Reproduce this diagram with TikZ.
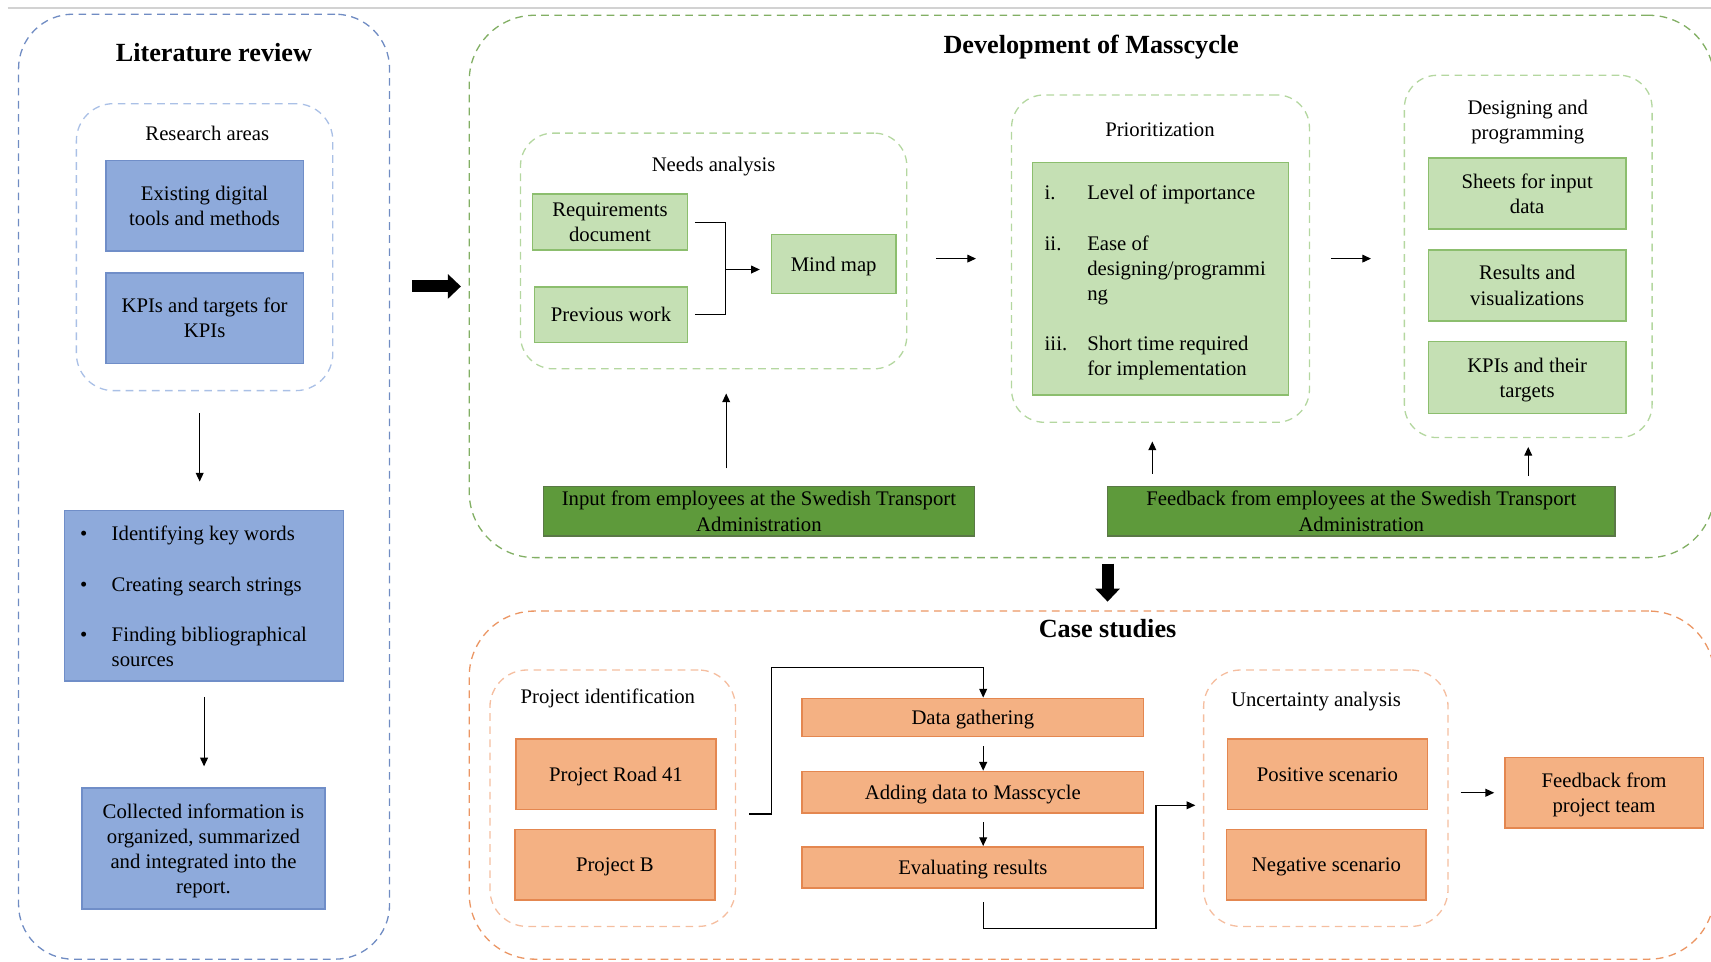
\documentclass[tikz,border=0pt]{standalone}
\usepackage{fontspec}
\setmainfont{Liberation Serif}
\usetikzlibrary{arrows.meta,calc}
\definecolor{bluefill}{RGB}{142,170,219}
\definecolor{bluebd}{RGB}{112,142,200}
\definecolor{greenfill}{RGB}{197,224,180}
\definecolor{greenbd}{RGB}{140,190,110}
\definecolor{dgreenfill}{RGB}{94,154,59}
\definecolor{dgreenbd}{RGB}{90,120,70}
\definecolor{orangefill}{RGB}{244,177,131}
\definecolor{orangebd}{RGB}{228,135,80}
\definecolor{litbd}{RGB}{112,140,195}
\definecolor{litin}{RGB}{170,192,230}
\definecolor{devbd}{RGB}{130,175,100}
\definecolor{devin}{RGB}{180,215,160}
\definecolor{casebd}{RGB}{235,150,100}
\definecolor{casein}{RGB}{245,190,160}
\newcommand\bodyf{\fontsize{9.5pt}{11.5pt}\selectfont}
\newcommand\titf{\fontsize{12pt}{14pt}\selectfont\bfseries}
% \bx{style}{name}{x1}{y1}{x2}{y2}{text}
\newcommand\bx[7]{\node[#1, minimum width={(#5-#3)*0.5pt}, minimum height={(#6-#4)*0.5pt}] (#2) at ({(#3+#5)/2},{(#4+#6)/2}) {#7};}
\begin{document}
\begin{tikzpicture}[x=0.5pt,y=-0.5pt,
  box/.style={line width=0.7pt, inner sep=0pt, align=center, font=\bodyf, text depth=0pt},
  bbox/.style={box, draw=bluebd, fill=bluefill},
  gbox/.style={box, draw=greenbd, fill=greenfill},
  dbox/.style={box, draw=dgreenbd, fill=dgreenfill},
  obox/.style={box, draw=orangebd, fill=orangefill},
  cont/.style={dash pattern=on 3.5pt off 2.5pt, line width=0.6pt, inner sep=0pt},
  lbl/.style={font=\bodyf, inner sep=0pt, text depth=0pt},
  ttl/.style={font=\titf, inner sep=0pt, text depth=0pt},
  arr/.style={line width=0.5pt, -{Triangle[length=4pt,width=3.6pt]}},
  link/.style={line width=0.5pt},
  bigarr/.style={line width=5.5pt, -{Triangle[length=6pt,width=11pt]}}]
\clip (0,0) rectangle (1568,881);
\draw[gray!35, line width=0.8pt] (7,7) -- (1568,7);

% Literature review
\bx{cont, draw=litbd, rounded corners=25pt}{lit}{17}{13}{357}{879}{}
\node[ttl] (littitle) at (196,48) {Literature review};
\bx{cont, draw=litin, rounded corners=17pt}{res}{70}{95}{305}{358}{}
\node[lbl] (restitle) at (190,122) {Research areas};
\bx{bbox}{exist}{97}{147}{278}{230}{Existing digital\\tools and methods}
\bx{bbox}{kpit}{97}{250}{278}{333}{KPIs and targets for\\KPIs}
\bx{bbox}{bul}{59}{468}{315}{624}{}
\node[lbl, anchor=west, align=left] (bultext) at (73,546.5) {\makebox[14.5pt][l]{\textbullet}Identifying key words\\[11.5pt]\makebox[14.5pt][l]{\textbullet}Creating search strings\\[11.5pt]\makebox[14.5pt][l]{\textbullet}Finding bibliographical\\\hspace*{14.5pt}sources};
\bx{bbox}{coll}{75}{722}{298}{833}{Collected information is\\organized, summarized\\and integrated into the\\report.}
\draw[arr] ([xshift=-2.25pt,yshift=-10pt]res.south) -- ([xshift=-2.25pt,yshift=13pt]res.south |- bul.north);
\draw[arr] ([yshift=-7pt]bul.south) -- ([yshift=9.5pt]bul.south |- coll.north);

% Development of Masscycle
\bx{cont, draw=devbd, rounded corners=30pt}{dev}{430}{14}{1571}{511}{}
\node[ttl] (devtitle) at (1000,41) {Development of Masscycle};
\bx{cont, draw=devin, rounded corners=15pt}{needs}{477}{122}{831}{338}{}
\node[lbl] (needstitle) at (654,151) {Needs analysis};
\bx{gbox}{req}{488}{178}{630}{229}{Requirements\\document}
\bx{gbox}{prev}{490}{263}{630}{314}{Previous work}
\bx{gbox}{mind}{707}{215}{821}{269}{Mind map}
\coordinate (jn) at (665,247);
\draw[link] ([xshift=3pt]req.east) -| (jn);
\draw[link] ([xshift=3pt]prev.east) -| (jn);
\draw[arr] (jn) -- ([xshift=-5pt]jn -| mind.west);

\bx{cont, draw=devin, rounded corners=15pt}{prior}{927}{87}{1200}{387}{}
\node[lbl] (priortitle) at (1063,119) {Prioritization};
\bx{gbox}{prlist}{946}{149}{1181}{362}{}
\node[lbl, anchor=west, align=left] (prtext) at (957,257) {\makebox[19.5pt][l]{i.}Level of importance\\[11.5pt]\makebox[19.5pt][l]{ii.}Ease of\\\hspace*{19.5pt}designing/programmi\\\hspace*{19.5pt}ng\\[11.5pt]\makebox[19.5pt][l]{iii.}Short time required\\\hspace*{19.5pt}for implementation};

\bx{cont, draw=devin, rounded corners=15pt}{design}{1287}{69}{1514}{401}{}
\node[lbl, align=center] (designtitle) at (1400,110) {Designing and\\programming};
\bx{gbox}{sheets}{1309}{145}{1490}{210}{Sheets for input\\data}
\bx{gbox}{results}{1309}{229}{1490}{294}{Results and\\visualizations}
\bx{gbox}{kpis}{1309}{313}{1490}{379}{KPIs and their\\targets}

\bx{dbox}{input}{498}{446}{893}{491}{Input from employees at the Swedish Transport\\Administration}
\bx{dbox}{feedback}{1015}{446}{1480}{491}{Feedback from employees at the Swedish Transport\\Administration}

\draw[arr] ([xshift=13pt]needs.east |- prior.west) -- ([xshift=-16pt]prior.west);
\draw[arr] ([xshift=9.5pt]prior.east) -- ([xshift=-15pt]prior.east -| design.west);
\draw[arr] ([xshift=-15pt,yshift=8pt]input.north) -- ([xshift=-15pt,yshift=-11pt]input.north |- needs.south);
\draw[arr] ([xshift=-3.75pt,yshift=5.5pt]feedback.north -| prior.south) -- ([xshift=-3.75pt,yshift=-8.5pt]prior.south);
\draw[arr] ([yshift=4.5pt]feedback.north -| design.south) -- ([yshift=-4pt]design.south);

% Case studies
\bx{cont, draw=casebd, rounded corners=30pt}{cs}{430}{560}{1571}{879}{}
\node[ttl] (cstitle) at (1015,576) {Case studies};
\bx{cont, draw=casein, rounded corners=17pt}{projid}{449}{614}{674}{849}{}
\node[lbl] (projidtitle) at (557,638) {Project identification};
\bx{obox}{road}{473}{677}{656}{742}{Project Road 41}
\bx{obox}{projb}{472}{760}{655}{825}{Project B}
\bx{obox}{dg}{735}{640}{1048}{675}{Data gathering}
\bx{obox}{add}{735}{707}{1048}{745}{Adding data to Masscycle}
\bx{obox}{eval}{735}{776}{1048}{814}{Evaluating results}
\bx{cont, draw=casein, rounded corners=17pt}{unc}{1103}{614}{1327}{849}{}
\node[lbl] (unctitle) at (1206,641) {Uncertainty analysis};
\bx{obox}{pos}{1125}{677}{1308}{742}{Positive scenario}
\bx{obox}{neg}{1124}{760}{1307}{825}{Negative scenario}
\bx{obox}{fbteam}{1379}{694}{1561}{759}{Feedback from\\project team}

\draw[arr] ([xshift=6pt,yshift=-7.25pt]projid.east) -- ++(10pt,0) |- ([xshift=4.75pt,yshift=14pt]dg.north) -- ([xshift=4.75pt]dg.north);
\draw[arr] ([xshift=4.75pt,yshift=-4pt]dg.south) -- ([xshift=4.75pt]add.north);
\draw[arr] ([xshift=4.75pt,yshift=-4pt]add.south) -- ([xshift=4.75pt]eval.north);
\draw[arr] ([xshift=4.75pt,yshift=-6pt]eval.south) -- ++(0,-12pt) -| ([xshift=-21.5pt,yshift=-3.25pt]unc.west) -- ([xshift=-3.5pt,yshift=-3.25pt]unc.west);
\draw[arr] ([xshift=5.5pt]unc.east |- fbteam.west) -- ([xshift=-4.5pt]fbteam.west);

% big arrows
\draw[bigarr] ([xshift=10pt]lit.east |- dev.west) -- ([xshift=-3.5pt]dev.west);
\draw[bigarr] ([yshift=-2.5pt]dev.south -| cstitle) -- ([yshift=4pt]cs.north -| cstitle);
\end{tikzpicture}
\end{document}
